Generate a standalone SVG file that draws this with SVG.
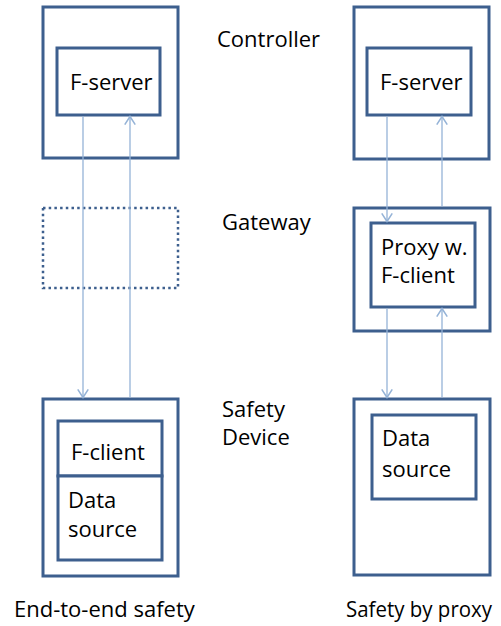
<svg xmlns="http://www.w3.org/2000/svg" width="501" height="626" viewBox="0 0 501 626">
<style>
.box{fill:#fff;stroke:#3D5F8E;stroke-width:3}
.dot{fill:#fff;stroke:#3D5F8E;stroke-width:2.5;stroke-dasharray:2.5 3.2}
.con{stroke:#95B3D7;stroke-width:1.3;fill:none}
text{font-family:"Open Sans","Liberation Sans",sans-serif;font-size:22px;fill:#000}
</style>
<defs>
<marker id="arr" markerUnits="userSpaceOnUse" markerWidth="14" markerHeight="14" viewBox="-8 -6 10 12" refX="0" refY="0" orient="auto" overflow="visible">
<path d="M-7,-4.5 L0,0 L-7,4.5" fill="none" stroke="#95B3D7" stroke-width="1.3"/>
</marker>
</defs>
<rect width="501" height="626" fill="#fff"/>
<g id="ctrl-left"><rect class="box" x="43" y="7" width="135" height="151"/><rect class="box" x="57" y="48" width="103" height="67"/><text x="70" y="90">F-server</text></g>
<g id="gw-left"><rect class="dot" x="43" y="208" width="135" height="80"/></g>
<g id="dev-left"><rect class="box" x="43" y="399" width="135" height="177"/><rect class="box" x="58" y="421" width="104" height="55"/><text x="71" y="460">F-client</text><rect class="box" x="58" y="476" width="104" height="84"/><text x="68" y="508">Data</text><text x="68" y="537">source</text></g>
<g id="ctrl-right"><rect class="box" x="354" y="7" width="135" height="152"/><rect class="box" x="367" y="48" width="104" height="67"/><text x="380" y="90">F-server</text></g>
<g id="gw-right"><rect class="box" x="354" y="208" width="136" height="123"/><rect class="box" x="371" y="223" width="104" height="84"/><text x="381" y="255">Proxy w.</text><text x="381" y="283">F-client</text></g>
<g id="dev-right"><rect class="box" x="354" y="399" width="136" height="176"/><rect class="box" x="372" y="415" width="104" height="84"/><text x="382" y="446">Data</text><text x="382" y="477">source</text></g>
<g id="labels">
<text x="217" y="47">Controller</text>
<text x="222" y="230">Gateway</text>
<text x="222" y="417">Safety</text>
<text x="222" y="445">Device</text>
<text x="14" y="617">End-to-end safety</text>
<text x="346" y="617" style="font-size:21px" textLength="146" lengthAdjust="spacingAndGlyphs">Safety by proxy</text>
</g>
<g id="connectors">
<line class="con" x1="83" y1="116.5" x2="83" y2="397.5" marker-end="url(#arr)"/>
<line class="con" x1="130" y1="397.5" x2="130" y2="116.5" marker-end="url(#arr)"/>
<line class="con" x1="387" y1="116.5" x2="387" y2="221.5" marker-end="url(#arr)"/>
<line class="con" x1="442" y1="206.5" x2="442" y2="116.5" marker-end="url(#arr)"/>
<line class="con" x1="387" y1="308.5" x2="387" y2="397.5" marker-end="url(#arr)"/>
<line class="con" x1="442" y1="397.5" x2="442" y2="308.5" marker-end="url(#arr)"/>
</g>
</svg>
